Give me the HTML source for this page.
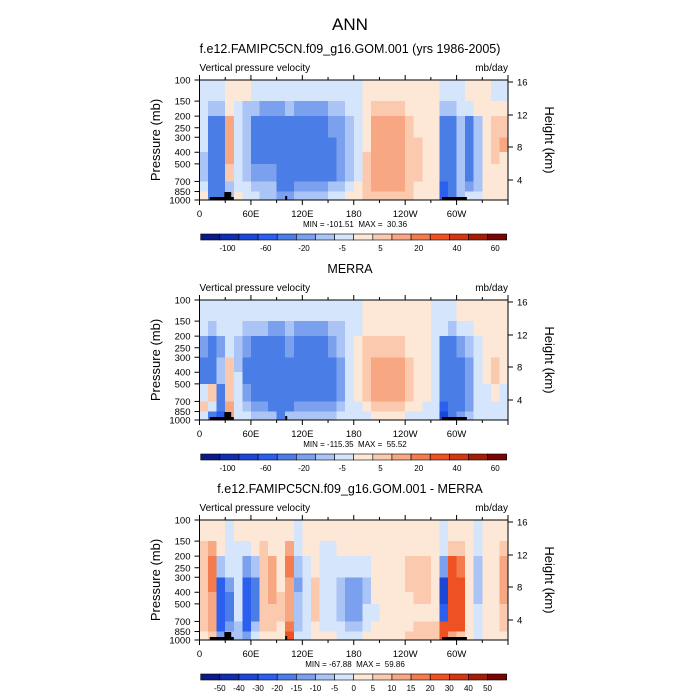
<!DOCTYPE html>
<html><head><meta charset="utf-8"><style>
html,body{margin:0;padding:0;background:#fff;}
svg{display:block;font-family:"Liberation Sans",sans-serif;}
</style></head><body>
<svg id="chart" width="700" height="700" viewBox="0 0 700 700"></svg>
<script>
const lonTickLabels = ["0","60E","120E","180","120W","60W"];
const presLevels = [100,150,200,250,300,400,500,700,850,1000];
const rowBounds = [100,150,200,300,400,500,700,850,1000];
const heightTicks = [16,12,8,4];
const levelsA = [-100,-80,-60,-40,-20,-10,-5,0,5,10,20,30,40,50,60];
const levelsD = [-50,-40,-30,-20,-15,-10,-5,0,5,10,15,20,30,40,50];
const cbLabelsA = ["-100","-60","-20","-5","5","20","40","60"];
const cbLabelsD = ["-50","-40","-30","-20","-15","-10","-5","0","5","10","15","20","30","40","50"];
const colors = ["#0b1a86","#0f2fb0","#1a47d6","#2b5ff0","#4a7ee6","#7aa0ee","#a9c4f5","#d5e5fb","#fde7d7","#fbc9ad","#f8a783","#f47b4e","#ee5222","#d23812","#a61d07","#780404"];
const modelVals = [
[-3,-3,-3,2,2,2,-3,-3,-3,-3,-3,-3,-3,-3,-3,-3,-3,-3,-3,2,2,2,2,2,2,2,2,2,-3,-3,-3,2,2,2,-3,-3],
[-3,-8,-8,2,-3,-8,-8,-12,-12,-12,-8,-12,-12,-12,-12,-8,-8,-3,-3,3,6,6,6,6,3,3,3,2,-8,-8,-3,-3,3,3,2,2],
[-3,-25,-25,12,-3,-8,-25,-25,-25,-25,-25,-25,-25,-25,-25,-15,-12,-8,-3,3,12,12,12,12,6,3,3,2,-25,-25,-8,-25,-8,3,6,8],
[-3,-25,-25,15,-3,-8,-25,-30,-25,-25,-30,-30,-30,-35,-25,-25,-15,-8,-3,3,12,12,12,12,8,6,3,2,-30,-35,-8,-25,-8,3,8,12],
[-8,-25,-25,15,-3,-8,-25,-25,-25,-30,-30,-25,-25,-35,-25,-25,-15,-8,-3,6,12,12,12,12,8,6,3,2,-30,-35,-8,-25,-8,3,6,3],
[-8,-25,-30,8,-3,-8,-12,-12,-12,-25,-25,-25,-25,-25,-25,-25,-15,-8,-3,6,12,12,12,12,8,6,3,2,-35,-35,-8,-25,-8,3,3,3],
[-3,-30,-40,-8,-3,-3,-8,-8,-8,-25,-25,-12,-12,-12,-12,-8,-8,-3,3,6,12,12,12,12,6,3,3,2,-45,-35,-8,-12,-8,3,3,2],
[3,-40,-40,-8,3,-3,-3,-8,-8,-12,-12,-8,-8,-8,-8,-3,-3,3,3,6,8,8,8,8,6,3,3,2,-60,-40,-8,-3,-3,3,3,2]];
const merraVals = [
[-3,-3,-3,-3,-3,-3,-3,-3,-3,-3,-3,-3,-3,-3,-3,-3,-3,-3,-3,3,3,3,3,3,3,3,3,-3,-3,-3,3,3,3,3,3,3],
[-3,-8,-3,-3,-3,-8,-8,-8,-12,-12,-8,-12,-12,-12,-12,-8,-8,-3,-3,3,3,3,3,3,3,3,3,-3,-3,-8,-3,-3,3,3,3,3],
[-12,-25,-12,-3,-8,-12,-25,-25,-25,-25,-12,-25,-25,-25,-25,-12,-8,-3,3,6,6,6,6,6,3,3,3,-3,-25,-25,-12,-8,-3,3,3,3],
[-25,-25,-8,5,-8,-25,-30,-30,-30,-30,-25,-25,-30,-30,-30,-25,-12,-3,3,6,12,12,12,12,6,3,3,-3,-35,-35,-25,-12,-3,3,6,3],
[-25,-25,-8,8,-3,-25,-30,-30,-35,-35,-25,-25,-35,-35,-35,-25,-12,-3,3,6,12,12,12,12,6,3,3,-3,-35,-40,-25,-12,-3,3,8,3],
[-3,8,-25,8,-3,-12,-25,-25,-35,-35,-25,-25,-25,-25,-25,-25,-12,-3,3,6,12,12,12,12,6,3,3,-3,-35,-40,-25,-12,-3,-3,3,-3],
[6,-3,-40,12,-3,-8,-12,-12,-25,-40,-25,-12,-12,-12,-12,-12,-8,-3,-3,3,6,6,6,6,3,3,-3,-3,-60,-35,-25,-12,-3,-3,-3,-3],
[-3,-25,-60,15,-3,-3,-8,-8,-8,-25,-8,-8,-8,-8,-8,-8,-3,-3,-3,-3,3,3,3,3,-3,-3,-3,-3,-80,-30,-12,-8,-3,-3,-3,-3]];
const diffVals = [
[3,3,3,-3,3,3,3,3,3,3,3,-3,3,3,3,3,3,3,3,3,3,3,3,3,3,3,3,3,-3,3,3,3,-3,3,3,3],
[8,10,3,-3,-3,-5,3,8,3,3,12,-5,3,3,-3,-3,3,3,3,3,3,3,3,3,3,3,3,3,-5,8,8,3,-3,3,3,8],
[8,17,-10,-5,-3,-15,-10,8,10,3,17,-10,-5,3,-5,-3,-3,-5,-5,-3,3,3,3,3,8,8,8,3,-15,20,15,3,-8,3,3,10],
[8,17,-25,-15,-3,-25,-20,8,10,3,12,-15,-5,5,-5,-3,-8,-12,-12,-8,3,3,3,3,8,8,8,3,-40,25,25,3,-8,3,3,10],
[8,12,-30,-20,-3,-25,-20,8,10,5,10,-10,-5,5,-5,-3,-8,-15,-12,-8,3,3,3,3,3,8,8,3,-40,25,25,3,-8,3,3,10],
[5,10,-30,-20,-3,-25,-20,8,8,5,10,-8,-5,5,-3,-3,-8,-15,-12,-5,-3,3,3,3,3,3,3,3,-25,25,25,3,-5,3,3,8],
[5,10,-25,-15,-8,-25,-10,5,5,3,17,-10,-3,3,-3,-3,-5,-10,-8,-3,3,3,3,3,3,8,8,8,20,25,20,3,-3,3,3,5],
[3,8,-15,-10,-8,-15,-5,3,3,3,20,-3,-3,3,3,3,-3,-5,-3,3,3,3,3,3,8,8,8,8,20,10,8,3,-3,3,3,3]];

const NS="http://www.w3.org/2000/svg";
const svg=document.getElementById('chart');
function mk(tag,attrs,parent,text){const e=document.createElementNS(NS,tag);for(const k in attrs)e.setAttribute(k,attrs[k]);if(text!==undefined)e.textContent=text;(parent||svg).appendChild(e);return e;}
const X0=199.5,X1=508,H=120;
function xScale(lon){return X0+(X1-X0)*lon/360;}
function yScale(top,p){return top+H*Math.log10(p/100);}
function colorFor(v,levels){let i=0;while(i<levels.length&&v>=levels[i])i++;return colors[i];}

function panel(top,vals,levels,title,minmax,cbLabels,name,evenLabels){
  const g=mk('g',{},svg);
  
  
  const t=mk('text',{x:350,y:top-27,'text-anchor':'middle','font-size':12.5},g,title);
  
  const l=mk('text',{x:X0,y:top-9,'font-size':10},g,'Vertical pressure velocity');
  
  const u=mk('text',{x:X1,y:top-9,'font-size':10,'text-anchor':'end'},g,'mb/day');
  
  const cells=mk('g',{'shape-rendering':'crispEdges'},g);
  
  const nc=vals[0].length;
  for(let r=0;r<vals.length;r++){
    const y0=yScale(top,rowBounds[r]),y1=yScale(top,rowBounds[r+1]);
    for(let c=0;c<nc;c++){
      const x0=xScale(c*360/nc),x1=xScale((c+1)*360/nc);
      const rc=mk('rect',{x:x0,y:y0,width:x1-x0+0.5,height:y1-y0+0.5,fill:colorFor(vals[r][c],levels)},cells);
      
      
    }
  }
  const terr=mk('g',{fill:'#000'},g);
  
  mk('rect',{x:xScale(12),y:top+H-3,width:xScale(40)-xScale(12),height:3},terr);
  mk('rect',{x:xScale(29),y:top+H-8,width:xScale(37)-xScale(29),height:8},terr);
  mk('rect',{x:xScale(283),y:top+H-3,width:xScale(312)-xScale(283),height:3},terr);
  mk('rect',{x:xScale(100),y:top+H-4,width:2,height:4},terr);
  const fr=mk('rect',{x:X0,y:top,width:X1-X0,height:H,fill:'none',stroke:'#000','stroke-width':1},g);
  
  for(let d=0;d<=360;d+=30){
    const x=xScale(d),len=d%60===0?5:3;
    mk('line',{x1:x,x2:x,y1:top,y2:top-len,stroke:'#000'},g);
    mk('line',{x1:x,x2:x,y1:top+H,y2:top+H+len,stroke:'#000'},g);
  }
  lonTickLabels.forEach((s,i)=>{
    const tx=mk('text',{x:xScale(i*60),y:top+H+17,'font-size':9.5,'text-anchor':'middle'},g,s);
    
  });
  presLevels.forEach(p=>{
    const y=yScale(top,p);
    mk('line',{x1:X0,x2:X0-5,y1:y,y2:y,stroke:'#000'},g);
    const tx=mk('text',{x:X0-9,y:y+3.5,'font-size':9.5,'text-anchor':'end'},g,String(p));
    
  });
  const hOff={16:2,12:35,8:67,4:100};
  heightTicks.forEach(h=>{
    const y=top+hOff[h];
    mk('line',{x1:X1,x2:X1+5,y1:y,y2:y,stroke:'#000'},g);
    const tx=mk('text',{x:X1+9,y:y+3.5,'font-size':9.5},g,String(h));
    
  });
  const yt=mk('text',{x:0,y:0,'font-size':13,'text-anchor':'middle',transform:`translate(160,${top+H/2}) rotate(-90)`},g,'Pressure (mb)');
  
  const ht=mk('text',{x:0,y:0,'font-size':13,'text-anchor':'middle',transform:`translate(545,${top+H/2}) rotate(90)`},g,'Height (km)');
  
  const mm=mk('text',{x:355,y:top+H+27,'font-size':8,'text-anchor':'middle','xml:space':'preserve'},g,minmax);
  mm.setAttribute('style','white-space:pre');
  
  const cb=mk('g',{},g);
  
  const cx0=200.7,cx1=506.7,cy=top+H+34,bw=(cx1-cx0)/16;
  colors.forEach((c,i)=>{
    const b=mk('rect',{x:cx0+i*bw,y:cy,width:bw,height:6,fill:c,stroke:'#000','stroke-width':0.6},cb);
    
  });
  cbLabels.forEach((s,i)=>{
    const x=evenLabels?cx0+(i+1)*bw:cx0+(i*2+1.4)*bw;
    const tx=mk('text',{x:x,y:cy+17,'font-size':8,'text-anchor':'middle'},cb,s);
    
  });
}
const title=mk('text',{x:350,y:30,'font-size':17,'text-anchor':'middle'},svg,'ANN');


panel(80,modelVals,levelsA,'f.e12.FAMIPC5CN.f09_g16.GOM.001 (yrs 1986-2005)','MIN = -101.51  MAX =  30.36',cbLabelsA,'model',false);
panel(300,merraVals,levelsA,'MERRA','MIN = -115.35  MAX =  55.52',cbLabelsA,'merra',false);
panel(520,diffVals,levelsD,'f.e12.FAMIPC5CN.f09_g16.GOM.001 - MERRA','MIN = -67.88  MAX =  59.86',cbLabelsD,'difference',true);
</script>
</body></html>
